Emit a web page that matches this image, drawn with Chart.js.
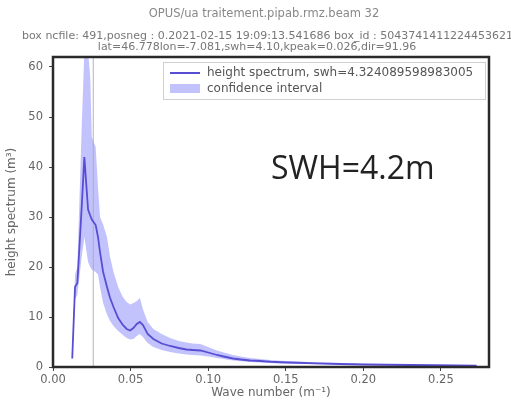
<!DOCTYPE html>
<html>
<head>
<meta charset="utf-8">
<script src="https://cdn.jsdelivr.net/npm/chart.js@4.4.1/dist/chart.umd.min.js"></script>
<style>
html,body{margin:0;padding:0;background:#fff;}
#wrap{position:relative;width:511px;height:408px;}
canvas{display:block;}
</style>
</head>
<body>
<div id="wrap"><canvas id="c" width="511" height="408"></canvas></div>
<script>
// ---- data ----
const waveNumbers = [0.0124,0.0142,0.0157,0.0185,0.0202,0.0226,0.024,0.025,0.0275,0.029,0.0303,0.0323,0.0348,0.0368,0.039,0.042,0.045,0.0475,0.0497,0.0518,0.054,0.056,0.058,0.061,0.0647,0.07,0.0755,0.081,0.086,0.09,0.095,0.1,0.1056,0.11,0.116,0.121,0.127,0.1335,0.14,0.147,0.157,0.17,0.185,0.2,0.215,0.23,0.245,0.26,0.273];
const spectrum    = [1.7,16,16.8,32,42,31.5,30.3,29.5,28.4,26,23,19,16,13.8,12,9.8,8.4,7.6,7.3,7.8,8.6,9.0,8.4,6.6,5.6,4.7,4.2,3.8,3.5,3.4,3.3,2.9,2.4,2.1,1.7,1.5,1.3,1.2,1.05,0.95,0.85,0.72,0.6,0.5,0.45,0.4,0.35,0.3,0.28];
const lowerBound  = [1.5,13.5,14.5,22,26,21,20,19.5,19,18.5,16,12.8,10.5,9.2,8.2,7.2,6.4,5.8,5.5,5.6,6.2,6.6,6.0,4.8,4.0,3.4,3.0,2.7,2.5,2.4,2.3,2.1,1.8,1.6,1.3,1.15,1.0,0.9,0.8,0.72,0.65,0.55,0.45,0.38,0.34,0.3,0.26,0.22,0.2];
const upperBound  = [2.0,18.5,20,48,63,63,58,46,44,36,30,28.5,26,22,19,16,14,13,12.5,12.8,13.2,13.8,11.5,9,7.6,6.6,5.8,5.2,4.9,4.7,4.6,4.0,3.3,2.9,2.4,2.1,1.8,1.6,1.4,1.25,1.1,0.95,0.8,0.65,0.58,0.52,0.46,0.4,0.38];
const kpeak = 0.026;
const xTicks = [0,0.05,0.10,0.15,0.20,0.25];
const yTicks = [0,10,20,30,40,50,60];
const titleLines = [
  "OPUS/ua traitement.pipab.rmz.beam 32",
  "box ncfile: 491,posneg : 0.2021-02-15 19:09:13.541686 box_id : 50437414112244536213",
  "lat=46.778lon=-7.081,swh=4.10,kpeak=0.026,dir=91.96"
];
const legendLabels = ["height spectrum, swh=4.324089598983005", "confidence interval"];
const annotationText = "SWH=4.2m";
const xTitle = "Wave number (m\u207B\u00B9)";
const yTitle = "height spectrum (m\u00B3)";

// ---- styles ----
const lineColor = "rgb(88,78,212)";
const bandColor = "rgba(120,120,248,0.45)";
const tickColor = "#666";

const pts = (ys) => waveNumbers.map((x, i) => ({x: x, y: ys[i]}));

const decor = {
  id: "decor",
  afterDraw(chart) {
    const ctx = chart.ctx;
    const a = chart.chartArea;
    ctx.save();
    // frame
    ctx.strokeStyle = "#2a2a2a";
    ctx.lineWidth = 2.5;
    ctx.strokeRect(a.left, a.top, a.right - a.left, a.bottom - a.top);
    // titles
    ctx.fillStyle = "#888";
    ctx.textBaseline = "middle";
    ctx.font = "11.5px 'DejaVu Sans'";
    ctx.textAlign = "center";
    ctx.fillText(titleLines[0], 264, 14);
    ctx.fillStyle = "#777";
    ctx.font = "11px 'DejaVu Sans'";
    ctx.textAlign = "left";
    ctx.fillText(titleLines[1], 22, 36);
    ctx.textAlign = "center";
    ctx.fillText(titleLines[2], 257, 47);
    // legend
    const lx = 163, ly = 62, lw = 322, lh = 37;
    ctx.fillStyle = "rgba(255,255,255,0.85)";
    ctx.fillRect(lx, ly, lw, lh);
    ctx.strokeStyle = "#d0d0d0";
    ctx.lineWidth = 1;
    ctx.strokeRect(lx + 0.5, ly + 0.5, lw, lh);
    ctx.strokeStyle = lineColor;
    ctx.lineWidth = 2;
    ctx.beginPath();
    ctx.moveTo(170, 73); ctx.lineTo(200, 73); ctx.stroke();
    ctx.fillStyle = bandColor;
    ctx.fillRect(170, 84, 30, 9);
    ctx.fillStyle = "#555";
    ctx.font = "12px 'DejaVu Sans'";
    ctx.textAlign = "left";
    ctx.fillText(legendLabels[0], 207, 73);
    ctx.fillText(legendLabels[1], 207, 89);
    // annotation
    ctx.fillStyle = "#222";
    ctx.font = "32px 'Open Sans'";
    ctx.textAlign = "left";
    ctx.textBaseline = "alphabetic";
    ctx.fillText(annotationText, 271, 179);
    ctx.restore();
  }
};

new Chart(document.getElementById("c"), {
  type: "line",
  data: {
    datasets: [
      {label: legendLabels[0], data: pts(spectrum), borderColor: lineColor, borderWidth: 1.8, pointRadius: 0, fill: false, tension: 0},
      {label: "lower", data: pts(lowerBound), borderWidth: 0, borderColor: "rgba(0,0,0,0)", pointRadius: 0, fill: false},
      {label: legendLabels[1], data: pts(upperBound), borderWidth: 0, borderColor: "rgba(0,0,0,0)", backgroundColor: bandColor, pointRadius: 0, fill: "-1"},
      {label: "kpeak", data: [{x: kpeak, y: 0}, {x: kpeak, y: 62}], borderColor: "rgba(170,170,190,0.7)", borderWidth: 1.3, pointRadius: 0, fill: false}
    ]
  },
  options: {
    responsive: false,
    animation: false,
    layout: {padding: {top: 57, right: 22, left: 0, bottom: 0}},
    plugins: {
      legend: {display: false},
      tooltip: {enabled: false},
      filler: {drawTime: "beforeDatasetsDraw"}
    },
    scales: {
      x: {
        type: "linear", min: 0, max: 0.281,
        afterFit: (s) => { s.height = 41; },
        afterBuildTicks: (s) => { s.ticks = xTicks.map(v => ({value: v})); },
        grid: {drawOnChartArea: false, drawTicks: true, tickLength: 4, color: "#444"},
        border: {display: false},
        ticks: {color: tickColor, font: {family: "DejaVu Sans", size: 11.5}, padding: 2, maxRotation: 0,
                callback: (v) => Number(v).toFixed(2)},
        title: {display: true, text: xTitle, color: tickColor, font: {family: "DejaVu Sans", size: 12}, padding: {top: 0, bottom: 8}}
      },
      y: {
        type: "linear", min: 0, max: 62,
        afterFit: (s) => { s.width = 53; },
        afterBuildTicks: (s) => { s.ticks = yTicks.map(v => ({value: v})); },
        grid: {drawOnChartArea: false, drawTicks: true, tickLength: 4, color: "#444"},
        border: {display: false},
        ticks: {color: tickColor, font: {family: "DejaVu Sans", size: 11.5}, padding: 6},
        title: {display: true, text: yTitle, color: tickColor, font: {family: "DejaVu Sans", size: 12}, padding: {top: 5, bottom: 0}}
      }
    }
  },
  plugins: [decor]
});
</script>
</body>
</html>
